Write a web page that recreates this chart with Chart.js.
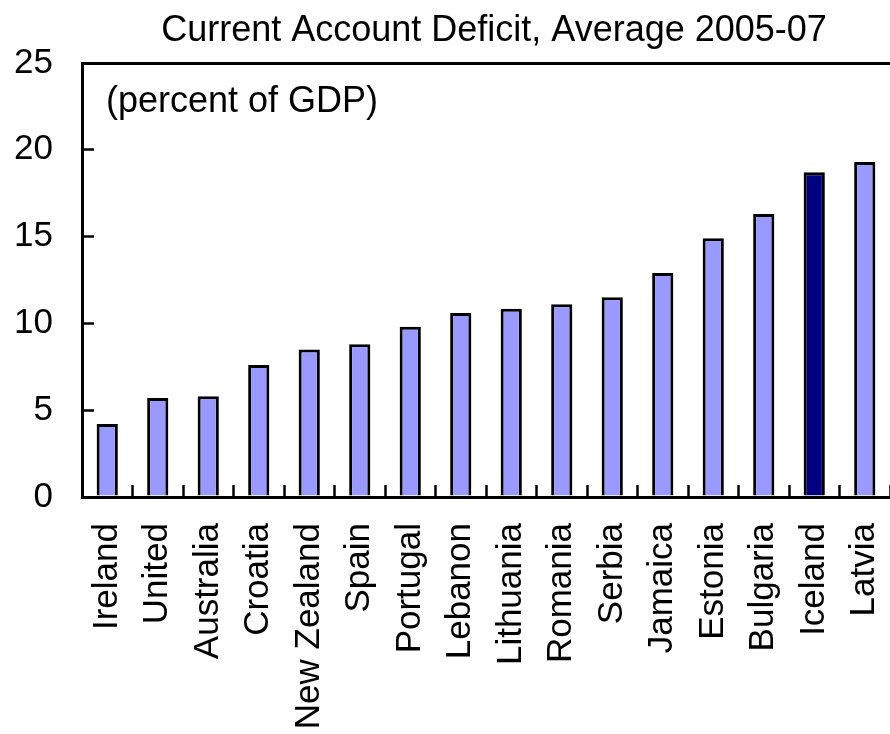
<!DOCTYPE html>
<html>
<head>
<meta charset="utf-8">
<script src="https://cdn.jsdelivr.net/npm/chart.js@4.4.1/dist/chart.umd.min.js"></script>
<style>
  html, body { margin: 0; padding: 0; background: #ffffff; }
  #wrap { width: 890px; height: 734px; }
</style>
</head>
<body>
<div id="wrap"><canvas id="deficitChart" width="890" height="734"></canvas></div>
<script>
const countries = [
  "Ireland", "United", "Australia", "Croatia", "New Zealand", "Spain",
  "Portugal", "Lebanon", "Lithuania", "Romania", "Serbia", "Jamaica",
  "Estonia", "Bulgaria", "Iceland", "Latvia",
];
const deficit = [
  4.2, 5.7, 5.8, 7.6, 8.5, 8.8, 9.8, 10.6, 10.85, 11.1, 11.5, 12.9,
  14.9, 16.3, 18.7, 19.3,
];
const highlighted = ["Iceland"];
const yTicks = [0, 5, 10, 15, 20, 25];

const titleText = "Current Account Deficit, Average 2005-07";
const unitText = "(percent of GDP)";
const fontFamily = "'Liberation Sans', Arial, Helvetica, sans-serif";

const lightBar = "#9999ff";
const darkBar = "#000080";

// title and unit note, drawn on top of the frame
const headerText = {
  id: "headerText",
  afterDraw(chart) {
    const { ctx, chartArea } = chart;
    ctx.save();
    ctx.fillStyle = "#000000";
    ctx.textBaseline = "middle";
    ctx.font = `36px ${fontFamily}`;
    ctx.textAlign = "center";
    ctx.fillText(titleText, 494, 31);
    ctx.textAlign = "left";
    ctx.fillText(unitText, chartArea.left + 24, 102);
    ctx.restore();
  },
};

const ctx = document.getElementById("deficitChart").getContext("2d");

new Chart(ctx, {
  type: "bar",
  data: {
    labels: countries,
    datasets: [
      {
        data: deficit,
        backgroundColor: countries.map((c) =>
          highlighted.includes(c) ? darkBar : lightBar,
        ),
        borderColor: "#000000",
        borderWidth: 3,
        categoryPercentage: 1,
        barPercentage: 0.42,
      },
    ],
  },
  options: {
    responsive: false,
    animation: false,
    layout: {
      padding: { top: 63, left: 0, right: -3, bottom: 0 },
    },
    plugins: {
      legend: { display: false },
      tooltip: { enabled: false },
      title: { display: false },
    },
    scales: {
      x: {
        afterFit(scale) {
          scale.height = 237;
          // the frame runs off the right edge, so no room is kept for the last label
          scale.paddingLeft = 0;
          scale.paddingRight = 0;
        },
        grid: {
          offset: true,
          drawOnChartArea: false,
          tickLength: -12,
          tickWidth: 2.5,
          tickColor: "#000000",
        },
        border: { color: "#000000", width: 3 },
        ticks: {
          color: "#000000",
          font: { family: fontFamily, size: 35 },
          minRotation: 90,
          maxRotation: 90,
          autoSkip: false,
          padding: 38,
        },
      },
      y: {
        min: 0,
        max: 25,
        afterFit(scale) {
          scale.width = 82;
        },
        afterBuildTicks(scale) {
          scale.ticks = yTicks.map((v) => ({ value: v }));
        },
        grid: {
          drawOnChartArea: true,
          color: (c) => (c.tick && c.tick.value === 25 ? "#000000" : "rgba(0,0,0,0)"),
          lineWidth: 3,
          tickLength: -12,
          tickWidth: 2.5,
          tickColor: "#000000",
        },
        border: { color: "#000000", width: 3 },
        ticks: {
          color: "#000000",
          font: { family: fontFamily, size: 35 },
          padding: 41,
        },
      },
    },
  },
  plugins: [headerText],
});
</script>
</body>
</html>
